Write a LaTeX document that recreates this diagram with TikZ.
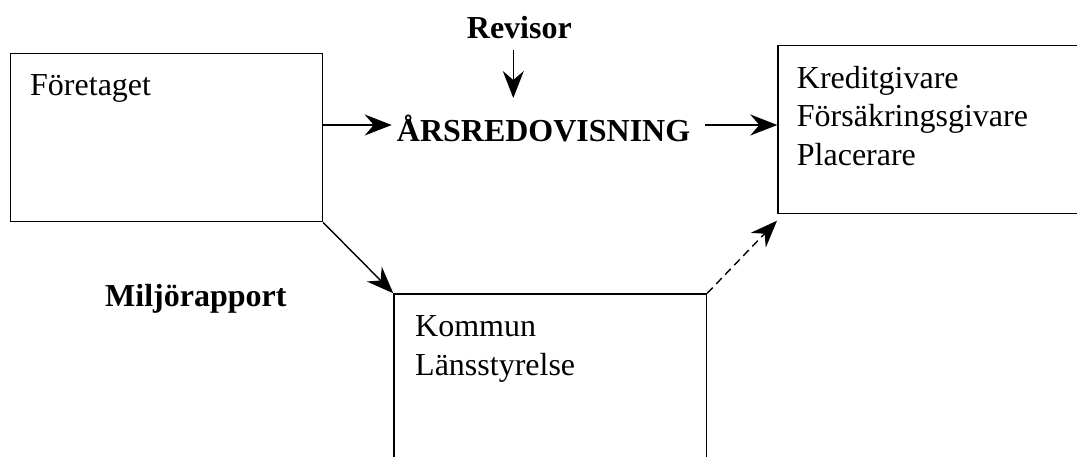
\documentclass[tikz,border=0pt]{standalone}
\usepackage{fontspec}
\setmainfont{Liberation Serif}
\usetikzlibrary{arrows.meta}
\begin{document}
\begin{tikzpicture}[x=1pt,y=-1pt,
  box/.style={draw,line width=1.5pt,inner sep=0pt,anchor=north west},
  arr/.style={line width=1.4pt,-{Stealth[length=27pt,width=21pt,inset=9pt]}},
  lbl/.style={anchor=base west,inner sep=0pt,font=\fontsize{32}{38}\selectfont},
  blbl/.style={anchor=base west,inner sep=0pt,font=\fontsize{32}{38}\selectfont\bfseries}]
\useasboundingbox (0,0) rectangle (1077,457);
\clip (0,0) rectangle (1077,457);
% boxes
\node[box,minimum width=312.2pt,minimum height=168.3pt] (f) at (9.5,52.7) {};
\node[box,minimum width=330pt,minimum height=167.7pt] (k) at (777.3,45) {};
\node[box,minimum width=312.4pt,minimum height=200pt] (m) at (393.3,293.3) {};
% texts
\node[lbl] (ft) at (30,96) {Företaget};
\node[lbl] (k1) at (796.7,88.3) {Kreditgivare};
\node[lbl] (k2) at (796.7,127) {Försäkringsgivare};
\node[lbl] (k3) at (796.7,165.5) {Placerare};
\node[lbl] (m1) at (415,336) {Kommun};
\node[lbl] (m2) at (415,375) {Länsstyrelse};
\node[blbl] (rev) at (466.7,38.3) {Revisor};
\node[blbl] (ars) at (396.7,141.7) {ÅRSREDOVISNING};
\node[blbl] (mil) at (105,307) {Miljörapport};
% connector ends
\coordinate (a1) at (391.7,125);
\coordinate (a2) at (705,125);
\coordinate (r1) at (513.3,50);
\coordinate (r2) at (513.3,98);
\coordinate (d1) at (777,220.7);
% connectors
\draw[arr] (f.east |- a1) -- (a1);
\draw[arr] (a2) -- (k.west |- a2);
\draw[arr] (r1) -- (r2);
\draw[arr] (f.south east) -- (m.north west);
\draw[arr,dash pattern=on 8pt off 5pt] (m.north east) -- (d1);
\end{tikzpicture}
\end{document}
